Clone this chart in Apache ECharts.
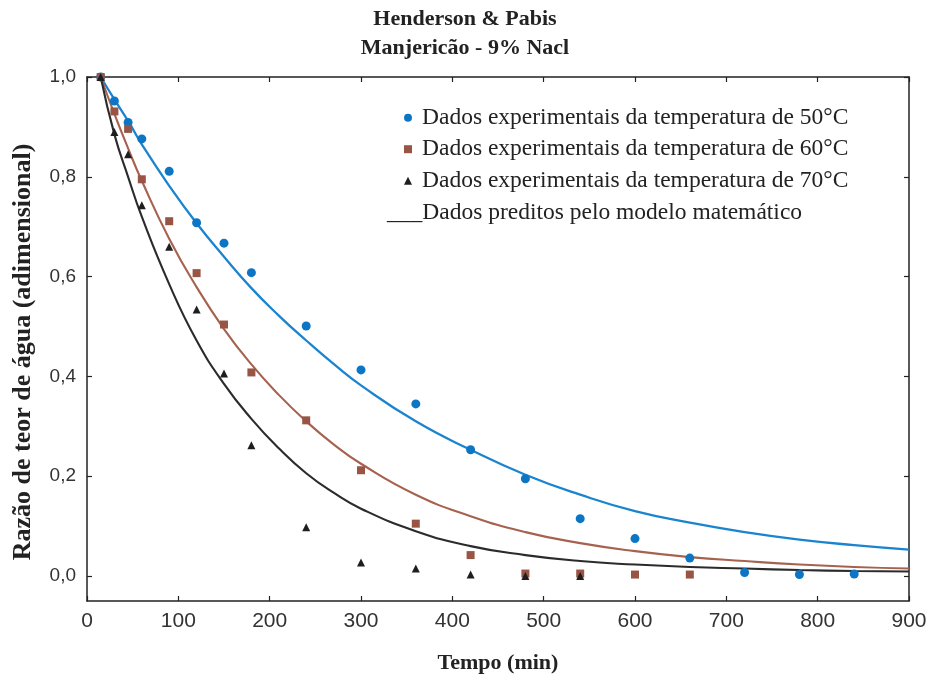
<!DOCTYPE html>
<html><head><meta charset="utf-8">
<script src="https://cdn.jsdelivr.net/npm/echarts@6/dist/echarts.min.js"></script>
<style>html,body{margin:0;padding:0;background:#fff}#c{width:930px;height:681px}</style>
</head><body><div id="c"></div>
<script>
// ---- text ----
const titleLines = ['Henderson & Pabis', 'Manjericão - 9% Nacl'];
const xAxisName = 'Tempo (min)';
const yAxisName = 'Razão de teor de água (adimensional)';
const legendNames = [
  'Dados experimentais da temperatura de 50°C',
  'Dados experimentais da temperatura de 60°C',
  'Dados experimentais da temperatura de 70°C'
];
const modelLabel = '___Dados preditos pelo modelo matemático';

// ---- ticks ----
const xTicks = [0, 100, 200, 300, 400, 500, 600, 700, 800, 900];
const yTicks = [0, 0.2, 0.4, 0.6, 0.8, 1.0];

// ---- experimental data ----
const t50  = [15, 30, 45, 60, 90, 120, 150, 180, 240, 300, 360, 420, 480, 540, 600, 660, 720, 780, 840];
const mr50 = [1.0, 0.952, 0.909, 0.876, 0.811, 0.708, 0.667, 0.608, 0.501, 0.413, 0.345, 0.253, 0.195, 0.115, 0.075, 0.036, 0.007, 0.003, 0.004];

const t60  = [15, 30, 45, 60, 90, 120, 150, 180, 240, 300, 360, 420, 480, 540, 600, 660];
const mr60 = [1.0, 0.931, 0.896, 0.795, 0.711, 0.607, 0.504, 0.408, 0.312, 0.212, 0.105, 0.042, 0.005, 0.005, 0.003, 0.003];

const t70  = [15, 30, 45, 60, 90, 120, 150, 180, 240, 300, 360, 420, 480, 540];
const mr70 = [1.0, 0.890, 0.845, 0.743, 0.660, 0.534, 0.406, 0.262, 0.098, 0.027, 0.015, 0.003, 0.0, 0.0];

// ---- model curves ----
const modelT = [15, 30, 45, 60, 90, 120, 150, 180, 210, 240, 270, 300, 360, 420, 480, 540, 600, 660, 720, 780, 840, 900];
const fit50  = [1.0, 0.955, 0.912, 0.865, 0.782, 0.707, 0.640, 0.577, 0.522, 0.472, 0.425, 0.382, 0.310, 0.253, 0.203, 0.163, 0.130, 0.107, 0.088, 0.073, 0.062, 0.053];
const fit60  = [1.0, 0.926, 0.857, 0.792, 0.676, 0.579, 0.495, 0.424, 0.363, 0.310, 0.264, 0.225, 0.163, 0.120, 0.088, 0.066, 0.050, 0.038, 0.030, 0.023, 0.018, 0.015];
const fit70  = [1.0, 0.885, 0.800, 0.720, 0.585, 0.472, 0.385, 0.315, 0.256, 0.206, 0.167, 0.135, 0.090, 0.060, 0.042, 0.030, 0.023, 0.018, 0.015, 0.012, 0.010, 0.009];

// ---- colours ----
const C50 = '#0d76c4', C60 = '#985545', C70 = '#1e1e1e';
const L50 = '#1a84cf', L60 = '#a6624f', L70 = '#2b2b2b';

const zip = (a, b) => a.map((v, i) => [v, b[i]]);
const SERIF = '"Liberation Serif", "Times New Roman", serif';
const SANS = '"Liberation Sans", Arial, sans-serif';

const chart = echarts.init(document.getElementById('c'), null, {renderer: 'canvas'});

const frameLine = {show: true, onZero: false, lineStyle: {color: '#222', width: 1.5}};
const tickIn = {show: true, inside: true, length: 5, lineStyle: {color: '#222', width: 1.2}};

chart.setOption({
  animation: false,
  backgroundColor: '#fff',
  title: {
    text: titleLines.join('\n'),
    left: 'center',
    top: 0,
    textStyle: {fontFamily: SERIF, fontWeight: 'bold', fontSize: 22, lineHeight: 29, color: '#222'}
  },
  grid: {left: 87, right: 21, top: 77, bottom: 80, containLabel: false},
  legend: {
    data: [
      {name: legendNames[0], icon: 'circle'},
      {name: legendNames[1], icon: 'rect'},
      {name: legendNames[2], icon: 'triangle'}
    ],
    orient: 'vertical',
    left: 404,
    top: 105.7,
    padding: 0,
    itemWidth: 8,
    itemHeight: 8,
    itemGap: 7.5,
    selectedMode: false,
    textStyle: {fontFamily: SERIF, fontSize: 23.5, lineHeight: 24, color: '#222', padding: [0, 0, 0, 5]}
  },
  graphic: [{
    type: 'text',
    left: 387,
    top: 201,
    style: {text: modelLabel, font: '23.5px "Liberation Serif", serif', fill: '#222'}
  }],
  xAxis: [{
    type: 'value', min: xTicks[0], max: xTicks[xTicks.length - 1], interval: 100,
    position: 'bottom',
    axisLine: frameLine, axisTick: tickIn,
    axisLabel: {fontFamily: SANS, fontSize: 21, color: '#333', margin: 10},
    splitLine: {show: false},
    name: xAxisName, nameLocation: 'middle', nameGap: 51,
    nameTextStyle: {fontFamily: SERIF, fontWeight: 'bold', fontSize: 22, color: '#222'}
  }, {
    type: 'value', min: xTicks[0], max: xTicks[xTicks.length - 1], interval: 100,
    position: 'top',
    axisLine: frameLine, axisTick: tickIn,
    axisLabel: {show: false}, splitLine: {show: false}
  }],
  yAxis: [{
    type: 'value', min: -0.05, max: 1.0,
    position: 'left',
    axisLine: frameLine,
    axisTick: Object.assign({customValues: yTicks}, tickIn),
    axisLabel: {
      customValues: yTicks,
      fontFamily: SANS, fontSize: 19, color: '#333', margin: 11,
      formatter: v => v.toFixed(1).replace('.', ',')
    },
    splitLine: {show: false},
    name: yAxisName, nameLocation: 'middle', nameGap: 51,
    nameTextStyle: {fontFamily: SERIF, fontWeight: 'bold', fontSize: 26, color: '#222', padding: [0, 26, 0, 0]}
  }, {
    type: 'value', min: -0.05, max: 1.0,
    position: 'right',
    axisLine: frameLine,
    axisTick: Object.assign({customValues: yTicks}, tickIn),
    axisLabel: {show: false}, splitLine: {show: false}
  }],
  series: [
    {type: 'line', name: 'fit50', data: zip(modelT, fit50), smooth: 0.5, showSymbol: false, symbol: 'none',
     lineStyle: {color: L50, width: 2.3}, itemStyle: {color: L50}, z: 2},
    {type: 'line', name: 'fit60', data: zip(modelT, fit60), smooth: 0.5, showSymbol: false, symbol: 'none',
     lineStyle: {color: L60, width: 2.1}, itemStyle: {color: L60}, z: 2},
    {type: 'line', name: 'fit70', data: zip(modelT, fit70), smooth: 0.5, showSymbol: false, symbol: 'none',
     lineStyle: {color: L70, width: 2.1}, itemStyle: {color: L70}, z: 2},
    {type: 'scatter', name: legendNames[0], data: zip(t50, mr50), symbol: 'circle', symbolSize: 9,
     itemStyle: {color: C50, opacity: 1}, z: 3},
    {type: 'scatter', name: legendNames[1], data: zip(t60, mr60), symbol: 'rect', symbolSize: 8,
     itemStyle: {color: C60, opacity: 1}, z: 3},
    {type: 'scatter', name: legendNames[2], data: zip(t70, mr70), symbol: 'triangle', symbolSize: 8,
     itemStyle: {color: C70, opacity: 1}, z: 3}
  ]
});
</script>
</body></html>
